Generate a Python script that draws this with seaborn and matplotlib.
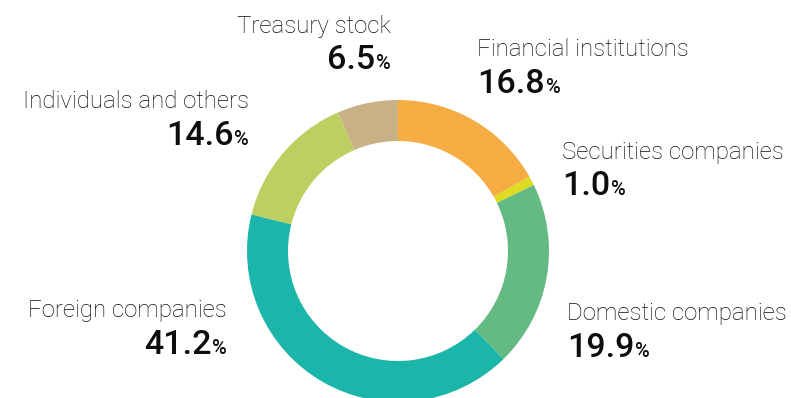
import matplotlib
matplotlib.use("Agg")
import matplotlib.pyplot as plt
import seaborn as sns

# Shareholder composition (%), clockwise from 12 o'clock
categories = ["Financial institutions", "Securities companies", "Domestic companies",
              "Foreign companies", "Individuals and others", "Treasury stock"]
shares = [16.8, 1.0, 19.9, 41.2, 14.6, 6.5]
colors = ["#F5AC42", "#DDDB22", "#63BA82", "#1CB5A9", "#BECE60", "#C9B186"]

sns.set_theme(style="white")
plt.rcParams["font.family"] = ["Roboto", "DejaVu Sans"]

W, H = 791, 398
fig = plt.figure(figsize=(W / 100, H / 100), dpi=100)
ax = fig.add_axes([0, 0, 1, 1])

cx, cy, r_out, r_in = 398, H - 251, 151, 110
wedges, _ = ax.pie(shares, colors=colors, startangle=90, counterclock=False,
                   center=(cx, cy), radius=r_out, frame=True,
                   wedgeprops=dict(width=r_out - r_in, linewidth=0))
for w in wedges:
    w.set_clip_on(True)
ax.set_xlim(0, W)
ax.set_ylim(0, H)
ax.set_aspect("equal")
ax.axis("off")

# label anchor: (x, baseline of name, baseline of value, alignment)
label_pos = {
    "Financial institutions": (477, 56, 93, "left"),
    "Securities companies": (562, 159, 195, "left"),
    "Domestic companies": (567, 320, 357, "left"),
    "Foreign companies": (227, 317, 354, "right"),
    "Individuals and others": (249, 108, 145, "right"),
    "Treasury stock": (391, 33, 69, "right"),
}

fig.canvas.draw()
renderer = fig.canvas.get_renderer()
name_kw = dict(fontsize=17.3, fontweight="light", color="#0d0d0d")
num_kw = dict(fontsize=24.5, fontweight="medium", color="#0d0d0d")
pct_kw = dict(fontsize=14.5, fontweight="medium", color="#0d0d0d")

def px_text(x, y, s, ha, **kw):
    return fig.text(x / W, 1 - y / H, s, ha=ha, va="baseline", **kw)

for name, val in zip(categories, shares):
    x, yn, yv, ha = label_pos[name]
    px_text(x, yn, name, ha, **name_kw)
    num = f"{val:.1f}"
    if ha == "left":
        t = px_text(x, yv, num, "left", **num_kw)
        w = t.get_window_extent(renderer).width
        px_text(x + w + 1, yv, "%", "left", **pct_kw)
    else:
        t = px_text(x, yv, "%", "right", **pct_kw)
        w = t.get_window_extent(renderer).width
        px_text(x - w - 1, yv, num, "right", **num_kw)

fig.savefig("out.png", dpi=100, facecolor="white")
